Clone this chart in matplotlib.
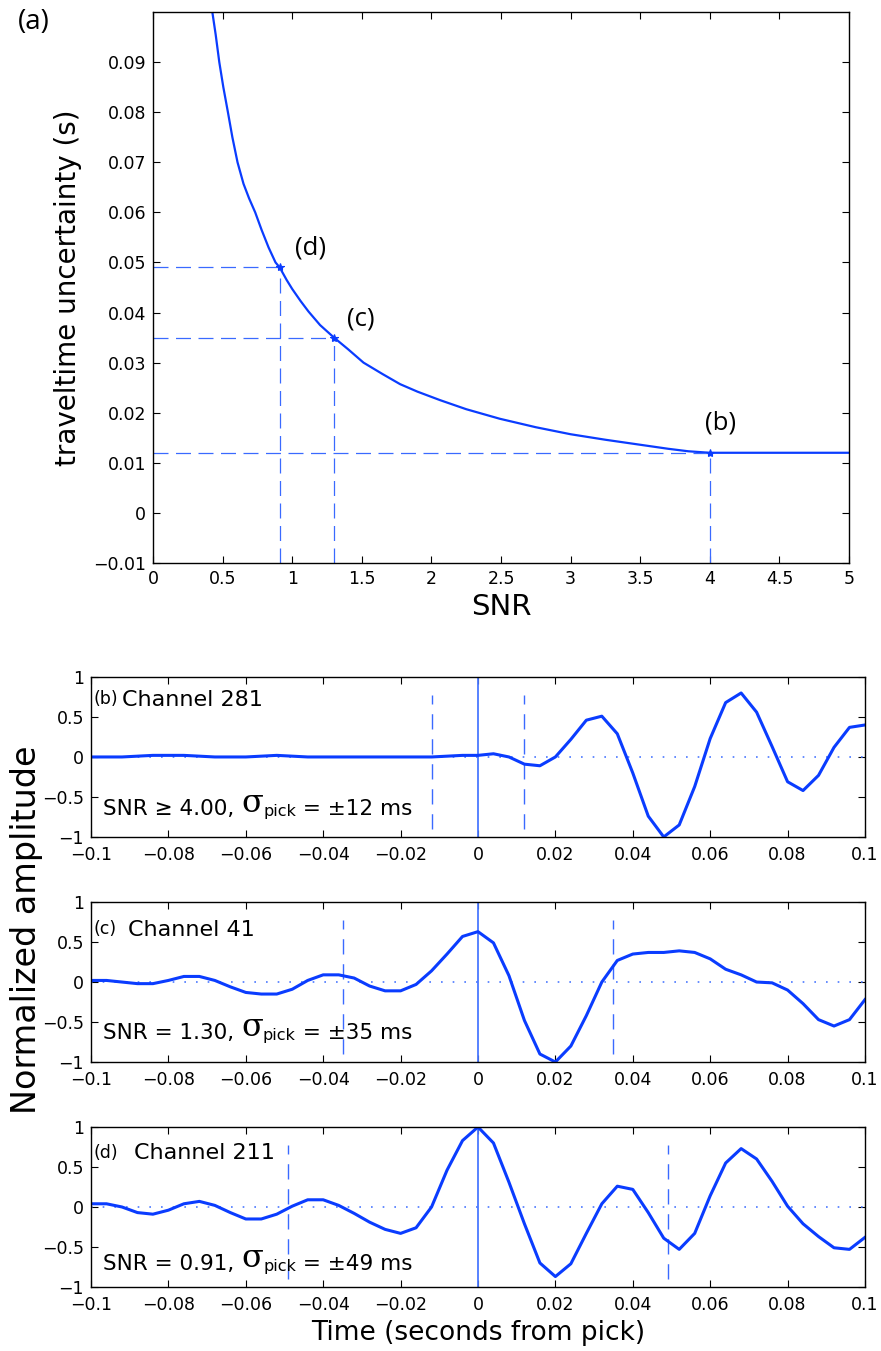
import numpy as np
import matplotlib
matplotlib.use("Agg")
import matplotlib.pyplot as plt
from matplotlib.ticker import FuncFormatter

# ---- (a) pick uncertainty vs SNR ----
snr_curve = [0.426, 0.45, 0.476, 0.505, 0.538, 0.57, 0.607, 0.65, 0.69, 0.734, 0.78,
             0.83, 0.88, 0.91, 0.96, 1.0, 1.06, 1.117, 1.2, 1.30, 1.40, 1.512, 1.65,
             1.775, 1.9, 2.063, 2.25, 2.49, 2.75, 3.0, 3.25, 3.5, 3.7, 3.845, 4.0, 5.0]
unc_curve = [0.100, 0.0955, 0.090, 0.085, 0.080, 0.075, 0.070, 0.0657, 0.0628, 0.060, 0.0565,
             0.053, 0.050, 0.049, 0.0465, 0.0447, 0.0423, 0.0402, 0.0375, 0.035, 0.0327, 0.030, 0.0277,
             0.0257, 0.0242, 0.0225, 0.0207, 0.0188, 0.0171, 0.0157, 0.0146, 0.0136, 0.0128, 0.0123, 0.012, 0.012]

# picked channels: label, SNR, uncertainty (s)
pick_labels = ["(d)", "(c)", "(b)"]
pick_snr = [0.91, 1.30, 4.00]
pick_unc = [0.049, 0.035, 0.012]
pick_label_xy = [(1.02, 0.0529), (1.394, 0.0387), (3.966, 0.018)]

# ---- (b)-(d) waveforms, 4 ms sampling ----
t_wave = np.round(np.linspace(-0.1, 0.1, 51), 3)

amp_281 = [0.0, 0.0, 0.0, 0.01, 0.02, 0.02, 0.02, 0.01, 0.0, 0.0, 0.0, 0.01, 0.02,
           0.01, 0.0, 0.0, 0.0, 0.0, 0.0, 0.0, 0.0, 0.0, 0.0, 0.01, 0.02,
           0.02, 0.04, 0.0, -0.09, -0.11, 0.0, 0.22, 0.46, 0.51, 0.29, -0.2, -0.74,
           -1.0, -0.85, -0.37, 0.23, 0.68, 0.80, 0.56, 0.13, -0.31, -0.42, -0.23,
           0.12, 0.37, 0.40]
amp_41 = [0.02, 0.02, 0.0, -0.02, -0.02, 0.02, 0.07, 0.07, 0.02, -0.06, -0.13, -0.15,
          -0.15, -0.09, 0.02, 0.09, 0.09, 0.05, -0.05, -0.11, -0.11, -0.03, 0.14, 0.35,
          0.57, 0.63, 0.49, 0.08, -0.48, -0.90, -1.0, -0.80, -0.42, 0.0, 0.27, 0.35,
          0.37, 0.37, 0.39, 0.37, 0.29, 0.16, 0.09, 0.0, -0.01, -0.10, -0.27, -0.47,
          -0.55, -0.47, -0.22]
amp_211 = [0.04, 0.04, 0.0, -0.07, -0.09, -0.04, 0.04, 0.07, 0.02, -0.07, -0.15, -0.15,
           -0.09, 0.01, 0.09, 0.09, 0.02, -0.08, -0.19, -0.28, -0.33, -0.26, 0.0, 0.46,
           0.83, 1.0, 0.80, 0.31, -0.21, -0.70, -0.87, -0.71, -0.33, 0.04, 0.26, 0.22,
           -0.07, -0.39, -0.53, -0.33, 0.14, 0.55, 0.73, 0.60, 0.32, 0.01, -0.21, -0.37,
           -0.51, -0.53, -0.38]

wave_tags = ["(b)", "(c)", "(d)"]
wave_channels = ["Channel 281", "Channel 41", "Channel 211"]
wave_snr_text = ["\u2265 4.00", "= 1.30", "= 0.91"]
wave_sigma_ms = [12, 35, 49]
wave_amps = [amp_281, amp_41, amp_211]

snr_ticks = [0, 0.5, 1, 1.5, 2, 2.5, 3, 3.5, 4, 4.5, 5]
unc_ticks = [-0.01, 0, 0.01, 0.02, 0.03, 0.04, 0.05, 0.06, 0.07, 0.08, 0.09]
time_ticks = [-0.1, -0.08, -0.06, -0.04, -0.02, 0, 0.02, 0.04, 0.06, 0.08, 0.1]
amp_ticks = [-1, -0.5, 0, 0.5, 1]

BLUE = "#0a3cff"
DASH_BLUE = "#3a6aff"
ZERO_BLUE = "#4a78ff"


def matlab_fmt(v, pos):
    s = "%g" % round(v, 6)
    if s == "-0":
        s = "0"
    return s.replace("-", "\u2212")


def style_axes(ax, xpad=5):
    ax.tick_params(direction="in", top=True, right=True, length=5, width=0.8,
                   labelsize=12.5, pad=5)
    ax.tick_params(axis="x", pad=xpad)
    for sp in ax.spines.values():
        sp.set_linewidth(1.0)
    ax.xaxis.set_major_formatter(FuncFormatter(matlab_fmt))
    ax.yaxis.set_major_formatter(FuncFormatter(matlab_fmt))


fig = plt.figure(figsize=(8.81, 13.51), dpi=100)

# top panel
ax = fig.add_axes([0.1737, 0.5833, 0.790, 0.4078])
ax.plot(snr_curve, unc_curve, color=BLUE, lw=1.6)
for lab, s, u, (lx, ly) in zip(pick_labels, pick_snr, pick_unc, pick_label_xy):
    ax.plot([0, s], [u, u], color=DASH_BLUE, lw=0.9, dashes=(12, 6))
    ax.plot([s, s], [-0.01, u], color=DASH_BLUE, lw=0.9, dashes=(12, 6))
    ax.plot(s, u, marker="*", color=BLUE, ms=6, mew=0.8)
    ax.text(lx, ly, lab, fontsize=18.5, family="Open Sans", va="center", ha="left")
ax.set_xlim(0, 5)
ax.set_ylim(-0.01, 0.1)
ax.set_xticks(snr_ticks)
ax.set_yticks(unc_ticks)
style_axes(ax)
ax.set_xlabel("SNR", fontsize=21, labelpad=4)
ax.set_ylabel("traveltime uncertainty (s)", fontsize=20, labelpad=8)
fig.text(0.020, 0.9835, "(a)", fontsize=20, family="Open Sans", va="center")

# waveform panels
bottoms = [0.3805, 0.2139, 0.0474]
chan_x = [0.040, 0.048, 0.0556]
chan_y = [0.819, 0.7875, 0.798]
snr_y = [0.1375, 0.144, 0.106]
for i in range(3):
    ax = fig.add_axes([0.1033, bottoms[i], 0.8785, 0.1184])
    ax.plot(time_ticks[:1] + time_ticks[-1:], [0, 0], color=ZERO_BLUE, lw=1.2,
            linestyle=(0, (1, 6)))
    ax.axvline(0, color=ZERO_BLUE, lw=1.3)
    sig = wave_sigma_ms[i] / 1000.0
    for x in (-sig, sig):
        ax.plot([x, x], [-0.9, 0.78], color=DASH_BLUE, lw=1.0, dashes=(11, 7))
    ax.plot(t_wave, wave_amps[i], color=BLUE, lw=2.2, clip_on=True)
    ax.set_xlim(-0.1, 0.1)
    ax.set_ylim(-1, 1)
    ax.set_xticks(time_ticks)
    ax.set_yticks(amp_ticks)
    style_axes(ax, xpad=6.5)

    ax.text(0.003, chan_y[i] + 0.01, wave_tags[i], transform=ax.transAxes,
            fontsize=12.5, va="baseline")
    ax.text(chan_x[i], chan_y[i], wave_channels[i], transform=ax.transAxes,
            fontsize=16, va="baseline")
    # SNR and pick uncertainty line, built piece by piece
    t1 = ax.text(0.0155, snr_y[i], "SNR %s, " % wave_snr_text[i],
                 transform=ax.transAxes, fontsize=15.5, va="baseline")
    t2 = ax.annotate("\u03c3", xy=(1, 0), xycoords=t1, fontsize=23,
                     family="DejaVu Serif", va="bottom", ha="left")
    t3 = ax.annotate("pick", xy=(1, 0), xycoords=t2, fontsize=11.5,
                     va="bottom", ha="left")
    ax.annotate(" = \u00b1%d ms" % wave_sigma_ms[i], xy=(1, 0), xycoords=t3,
                fontsize=15.5, va="bottom", ha="left")

    if i == 2:
        ax.set_xlabel("Time (seconds from pick)", fontsize=19, labelpad=4)

fig.text(0.030, 1 - 930 / 1351, "Normalized amplitude", fontsize=24,
         rotation=90, va="center", ha="center")

fig.savefig("out.png", dpi=100)
